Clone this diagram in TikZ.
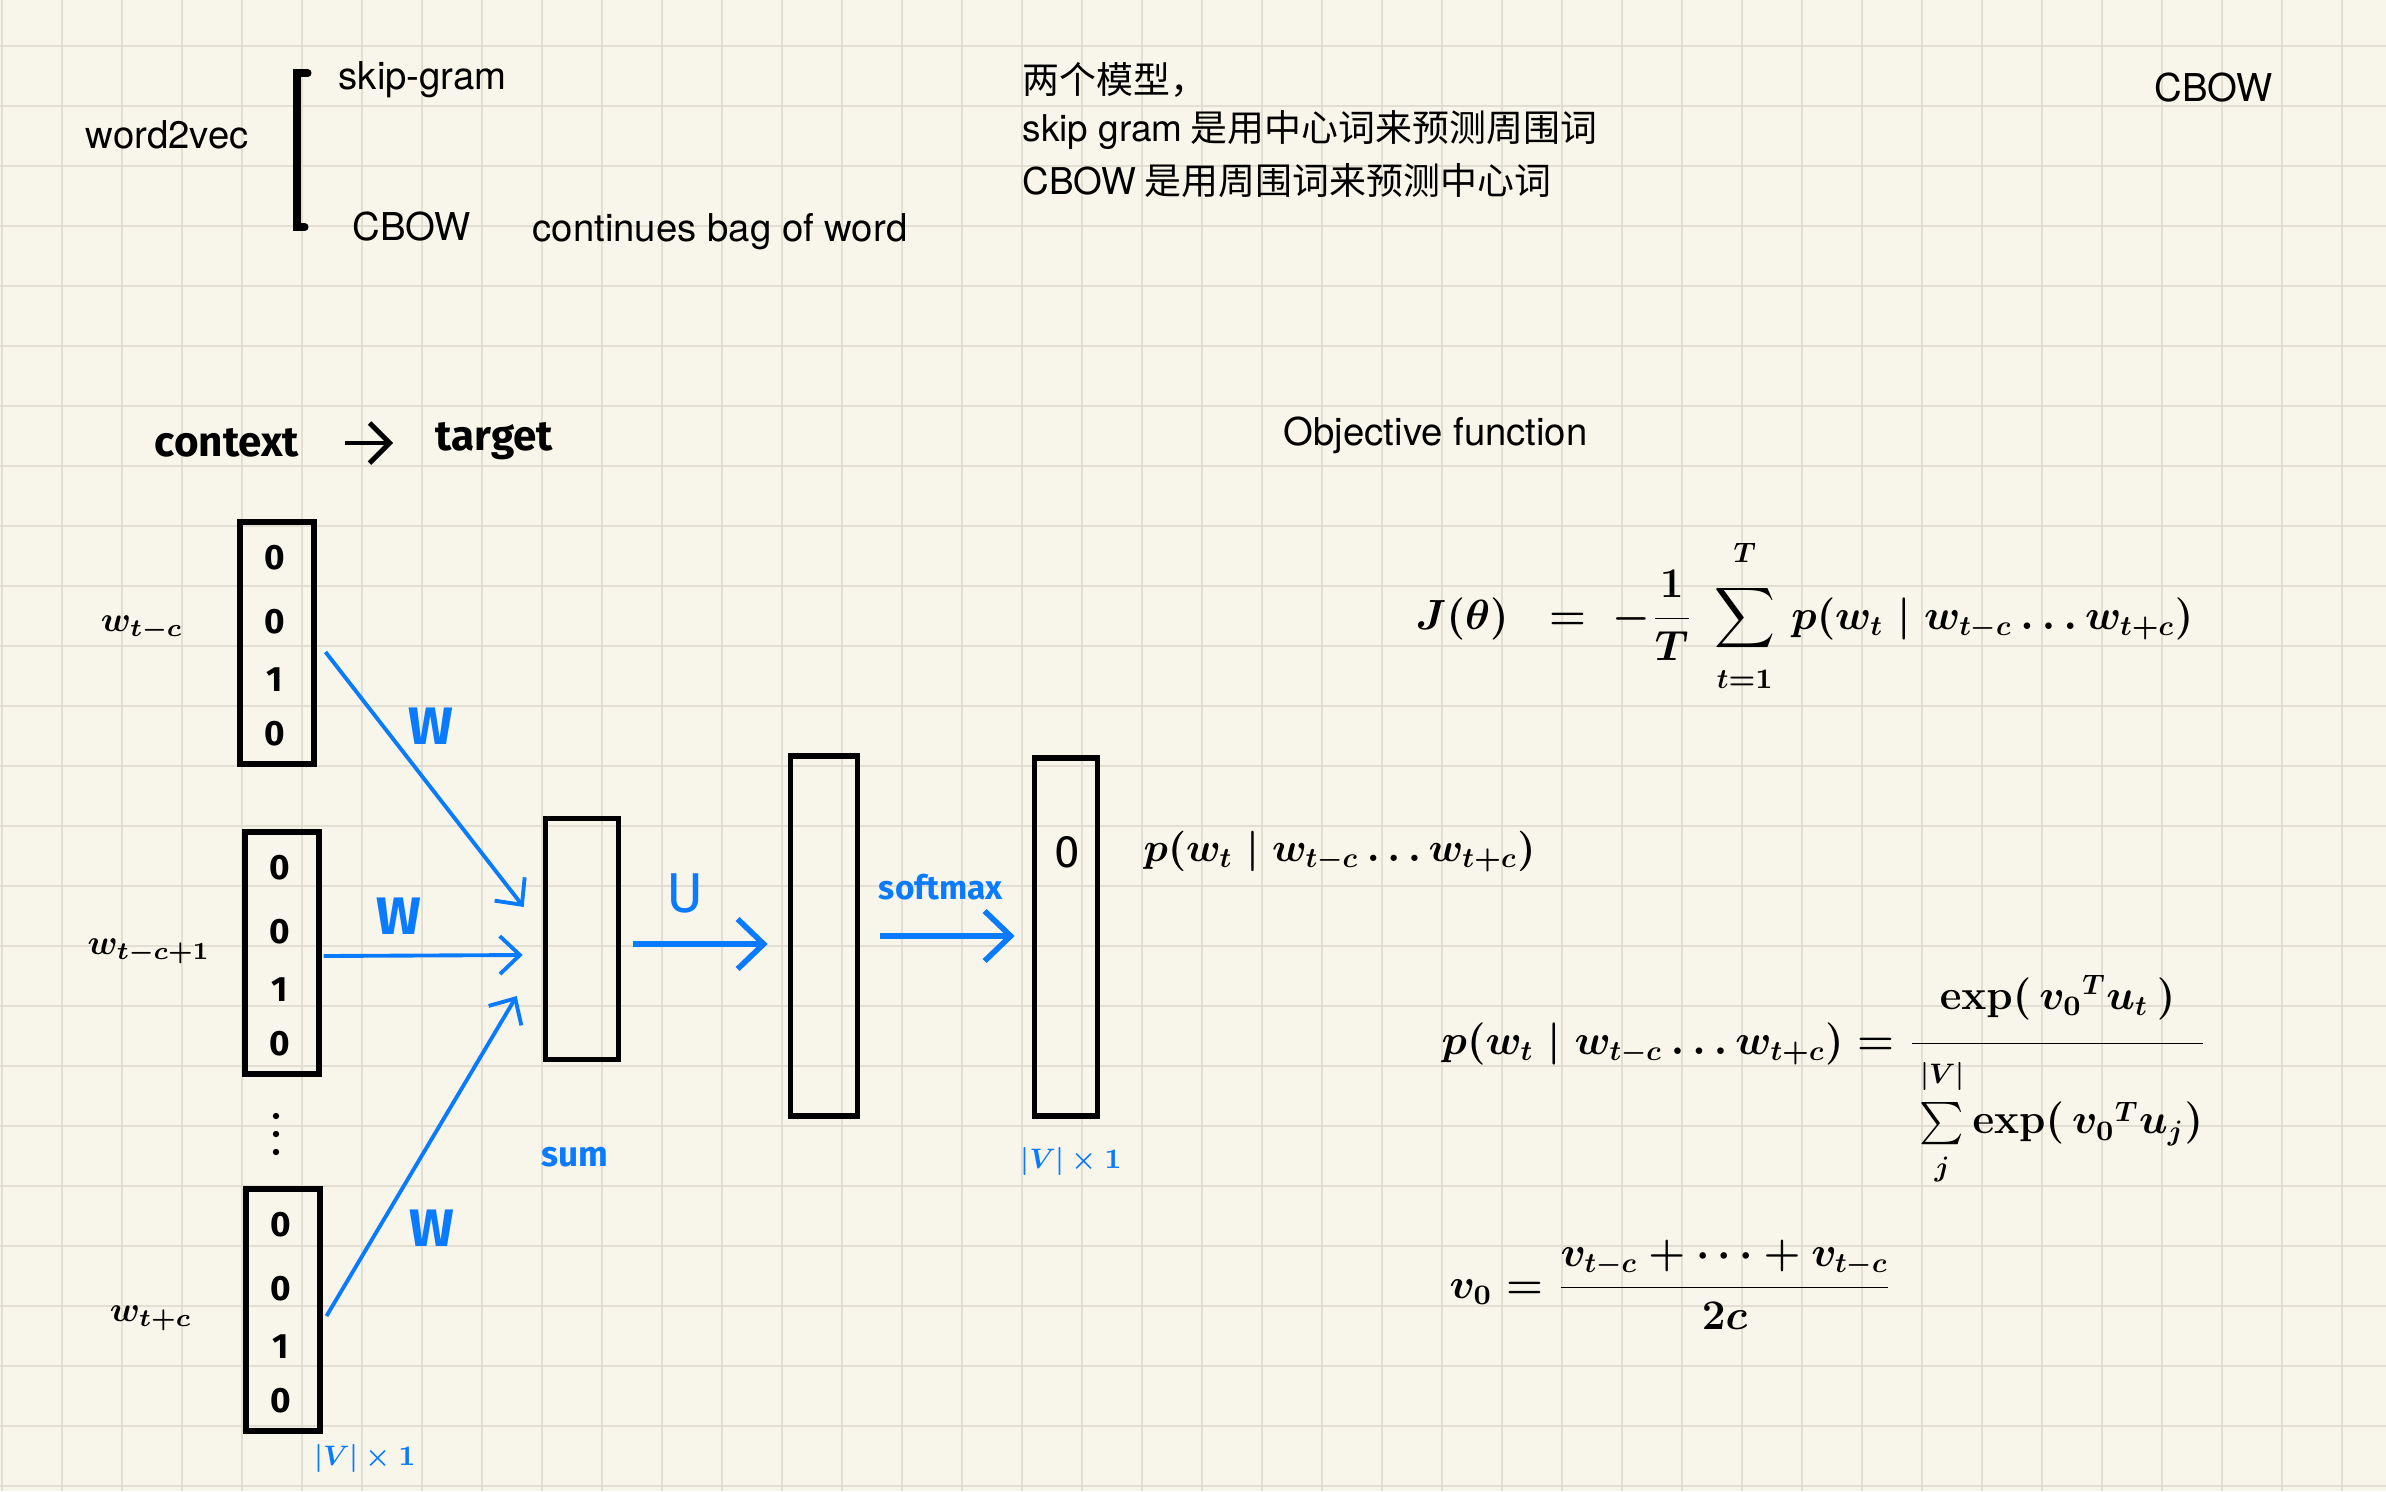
\RequirePackage{fix-cm}
\documentclass[tikz,border=0pt]{standalone}
\usepackage{amsmath}
\usepackage{amssymb}
\usepackage[no-math]{fontspec}
\setmainfont{TeX Gyre Heros}
\newfontfamily\cjk{Noto Sans CJK SC}
\newfontfamily\hand{Fira Sans}
\usetikzlibrary{arrows.meta}
\usetikzlibrary{positioning, calc}

\definecolor{paper}{RGB}{248,246,234}
\definecolor{gridgray}{RGB}{226,223,210}
\definecolor{inkblue}{RGB}{10,122,255}

\tikzset{
    typed/.style={
        inner sep=0pt,
        anchor=west,
        font=\fontsize{10.9}{14}\selectfont
    },
    cjknote/.style={
        typed,
        font=\cjk\fontsize{10.5}{14}\selectfont
    },
    gridrule/.style={
        draw=gridgray,
        line width=0.7pt
    }
}

\begin{document}
\begin{tikzpicture}[
    x=0.01cm, y=-0.01cm,
    % boxes of the network
    vecbox/.style={
        rectangle,
        draw=black,
        line width=1.7pt,
        minimum width=0.73cm,
        minimum height=2.41cm,
        inner sep=0pt
    },
    layerbox/.style={
        rectangle,
        draw=black,
        line width=1.6pt,
        inner sep=0pt
    },
    % handwritten labels
    handtext/.style={inner sep=0pt, anchor=west, font=\hand\bfseries\fontsize{12}{14}\selectfont},
    digit/.style={inner sep=0pt, font=\hand\bfseries\fontsize{10}{10}\selectfont},
    mathlabel/.style={inner sep=0pt, font=\boldmath\fontsize{10}{12}\selectfont},
    bluelabel/.style={inner sep=0pt, text=inkblue, font=\hand\bfseries\fontsize{10}{12}\selectfont},
    formula/.style={inner sep=0pt, anchor=base west, font=\boldmath\fontsize{12}{15}\selectfont},
    % connectors
    weightarrow/.style={draw=inkblue, line width=1.1pt, -{Straight Barb[length=2mm, width=3.8mm]}},
    flowarrow/.style={draw=inkblue, line width=1.6pt, -{Straight Barb[length=2.6mm, width=5mm]}}
]

    % paper with grid
    \useasboundingbox (0,0) rectangle (2386,1491);
    \fill[paper] (0,0) rectangle (2386,1491);
    \foreach \gx in {2,62,...,2342}
        \draw[gridrule] (\gx,0) -- (\gx,1491);
    \foreach \gy in {46,106,...,1486}
        \draw[gridrule] (0,\gy) -- (2386,\gy);

    % typed notes
    \node[typed] (w2v) at (85,135) {word2vec};
    \draw[line width=2pt, line cap=round] (308,73) -- (297,73) -- (297,227) -- (305,227);
    \node[typed] (skipgram) at (338,80) {skip-gram};
    \node[typed] (cbow) at (352,227) {CBOW};
    \node[typed] (cbowfull) at (532,232) {continues bag of word};

    \node[cjknote] (note1) at (1022,80) {两个模型，};
    \node[cjknote] (note2) at (1022,130) {{\normalfont skip gram} 是用中心词来预测周围词};
    \node[cjknote] (note3) at (1022,181) {{\normalfont CBOW} 是用周围词来预测中心词};

    \node[typed] (cbowtop) at (2154,88) {CBOW};
    \node[typed] (objective) at (1283,435) {Objective function};

    % context -> target
    \node[handtext] (context) at (154,443) {context};
    \node[handtext] (target) at (435,441) {target};
    \draw[line width=1.4pt, -{Straight Barb[length=2mm, width=4mm]}]
        ([shift={(45,0)}]context.east) -- ([shift={(-42,2)}]target.west);

    % one-hot input vectors
    \foreach \v/\x/\y in {in1/277/643, in2/282/953, in3/283/1310} {
        \node[vecbox] (\v) at (\x,\y) {};
        \foreach \dy/\d [count=\k] in {-85/0, -21/0, 37/1, 91/0}
            \node[digit] (\v-\k) at ($(\v)+(-2,\dy)$) {\d};
    }
    \node[mathlabel] (lab1) at (142,628) {$w_{t-c}$};
    \node[mathlabel] (lab2) at (149,951) {$w_{t-c+1}$};
    \node[mathlabel] (lab3) at (151,1318) {$w_{t+c}$};
    % vertical dots between the vectors
    \foreach \dy in {1116,1134,1152}
        \fill (276,\dy) circle (3.2);
    \node[bluelabel, font=\boldmath\fontsize{8}{10}\selectfont] (dimin) at (365,1458) {$|V|\times 1$};

    % layers
    \node[layerbox, minimum width=0.73cm, minimum height=2.41cm] (sum) at (582,939) {};
    \node[layerbox, minimum width=0.67cm, minimum height=3.6cm] (hidden) at (824,936) {};
    \node[layerbox, minimum width=0.63cm, minimum height=3.58cm] (output) at (1066,937) {};
    \node[bluelabel] (sumlabel) at (575,1157) {sum};
    \node[bluelabel, font=\boldmath\fontsize{8}{10}\selectfont] (dimout) at (1071,1161) {$|V|\times 1$};

    % weight connectors
    \draw[weightarrow] ([shift={(9,9)}]in1.east) -- ([shift={(-19,-32)}]sum.west);
    \draw[weightarrow] ([shift={(2,3)}]in2.east) -- ([shift={(-20,16)}]sum.west);
    \draw[weightarrow] ([shift={(4,6)}]in3.east) -- ([shift={(-26,57)}]sum.west);
    \node[bluelabel, font=\hand\bfseries\fontsize{15}{16}\selectfont] (W1) at (431,726) {W};
    \node[bluelabel, font=\hand\bfseries\fontsize{15}{16}\selectfont] (W2) at (399,916) {W};
    \node[bluelabel, font=\hand\bfseries\fontsize{15}{16}\selectfont] (W3) at (432,1228) {W};

    \draw[flowarrow] ([shift={(12,5)}]sum.east) -- ([shift={(-20,8)}]hidden.west);
    \node[bluelabel, font=\hand\fontsize{16}{17}\selectfont] (U) at (685,893) {U};
    \draw[flowarrow] ([shift={(20,0)}]hidden.east) -- ([shift={(-17,-1)}]output.west);
    \node[bluelabel, font=\hand\bfseries\fontsize{9.5}{10}\selectfont] (softmax) at (941,887) {softmax};

    % output
    \node[inner sep=0pt, font=\hand\fontsize{13}{14}\selectfont] (o) at (1067,852) {0};
    \node[formula, anchor=west, font=\boldmath\fontsize{11.5}{14}\selectfont] (pout) at (1143,852)
        {$p(w_t \mid w_{t-c} \ldots w_{t+c})$};

    % objective and softmax formulas
    \node[formula] (J) at (1415,629)
        {$\displaystyle J(\theta)\;\; = \; -\frac{1}{T}\;\sum_{\raisebox{-3pt}{$\scriptstyle t=1$}}^{\raisebox{4pt}{$\scriptstyle T$}}\, p(w_t \mid w_{t-c} \ldots w_{t+c})$};
    \node[formula] (P) at (1441,1054)
        {$\displaystyle p(w_t \mid w_{t-c} \ldots w_{t+c}) = \frac{\exp(\, {v_0}^{T} u_t \,)\rule[-8pt]{0pt}{8pt}}{\rule{0pt}{24pt}\sum\limits_{\raisebox{-2pt}{$\scriptstyle j$}}^{\raisebox{3pt}{$\scriptstyle |V|$}} \exp(\, {v_0}^{T} u_j)}$};
    \node[formula] (V) at (1449,1298)
        {$\displaystyle v_0 = \frac{v_{t-c} + \cdots + v_{t-c}}{2c}$};

\end{tikzpicture}
\end{document}
